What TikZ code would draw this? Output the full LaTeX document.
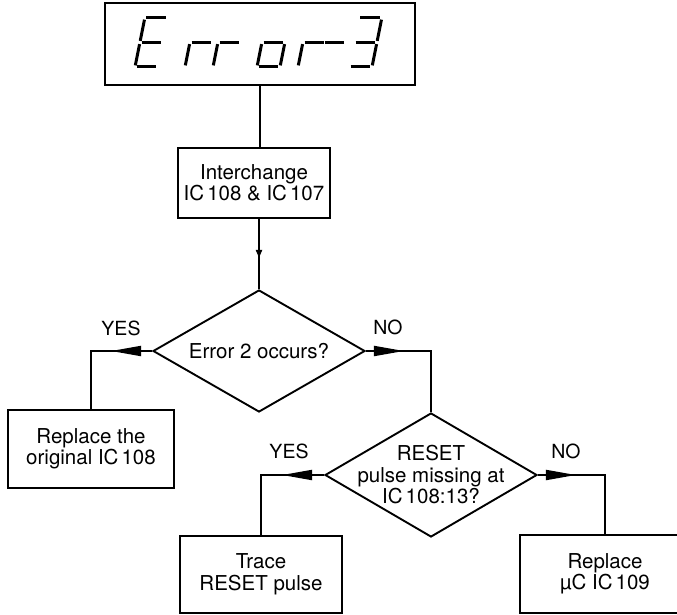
\documentclass[tikz,border=0pt]{standalone}
\usepackage{fontspec}
\setmainfont{TeX Gyre Heros}
\usetikzlibrary{shapes.geometric,arrows.meta,decorations.markings}
\newcommand{\SgA}{\draw[seg] (1.6,49)--(21.4,49);}
\newcommand{\SgB}{\draw[seg] (23,47.4)--(23,26.1);}
\newcommand{\SgC}{\draw[seg] (23,22.9)--(23,1.6);}
\newcommand{\SgD}{\draw[seg] (1.6,0)--(21.4,0);}
\newcommand{\SgE}{\draw[seg] (0,1.6)--(0,22.9);}
\newcommand{\SgF}{\draw[seg] (0,26.1)--(0,47.4);}
\newcommand{\SgG}{\draw[seg] (1.6,24.5)--(21.4,24.5);}
\newcommand{\glyph}[2]{\begin{scope}[shift={(#1,67)},xslant=0.2,yscale=-1]#2\end{scope}}
\begin{document}
\begin{tikzpicture}[x=1pt,y=-1pt,line width=1.9pt,
  txt/.style={font=\fontsize{20.5}{21.5}\selectfont},
  box/.style={draw,rectangle,inner sep=0pt,align=center,txt},
  dia/.style={draw,diamond,aspect=1,inner sep=0pt,line join=miter},
  dtxt/.style={inner sep=0pt,align=center,txt},
  lab/.style={inner sep=0pt,font=\fontsize{19.5}{21}\selectfont},
  seg/.style={line width=3pt,line cap=butt},
  arr/.style={postaction=decorate,decoration={markings,
     mark=at position #1 with {\arrow{Triangle[length=30pt,width=10pt]}}}},
  smallarr/.style={postaction=decorate,decoration={markings,
     mark=at position #1 with {\arrow{Triangle[length=8pt,width=6pt]}}}}]
\useasboundingbox (0,0) rectangle (677,615);
\clip (0,0) rectangle (677,615);
% display
\node[box,minimum width=310pt,minimum height=82pt] (disp) at (260,44) {};
\glyph{135}{\SgA\SgD\SgE\SgF\SgG}
\glyph{185}{\SgE\SgG}
\glyph{213}{\SgE\SgG}
\glyph{257}{\SgC\SgD\SgE\SgG}
\glyph{298}{\SgE\SgG}
\glyph{318}{\SgG}
\glyph{349}{\SgA\SgB\SgC\SgD\SgG}
% nodes
\node[box,minimum width=152pt,minimum height=70pt] (b2) at (254,183) {Interchange\\IC\hspace{0.15em}108 \& IC\hspace{0.15em}107};
\node[dia,minimum width=212pt,minimum height=122pt] (d1) at (259,351) {};
\node[dtxt] (t1) at (d1.center) {Error 2 occurs?};
\node[box,minimum width=166pt,minimum height=78pt] (b3) at (91,449) {Replace the\\original IC\hspace{0.15em}108};
\node[dia,minimum width=212pt,minimum height=124pt] (d2) at (431,475) {};
\node[dtxt] (t2) at (d2.center) {RESET\\pulse missing at\\IC\hspace{0.15em}108:13?};
\node[box,minimum width=162pt,minimum height=77pt] (b4) at (261,574.5) {Trace\\RESET pulse};
\node[box,minimum width=170pt,minimum height=78pt] (b5) at (605,574) {Replace\\µC IC\hspace{0.15em}109};
% labels
\node[lab] (ly1) at (121,328) {YES};
\node[lab] (ln1) at (388,327) {NO};
\node[lab] (ly2) at (289,451) {YES};
\node[lab] (ln2) at (566,451) {NO};
% connectors
\draw (disp.south) -- (disp.south |- b2.north);
\draw[smallarr=39pt] (d1.north |- b2.south) -- (d1.north);
\draw[arr=41pt] (d1.west) -| (b3.north);
\draw[arr=38pt] (d1.east) -| (d2.north);
\draw[arr=42pt] (d2.west) -| (b4.north);
\draw[arr=38pt] (d2.east) -| (b5.north);
\end{tikzpicture}
\end{document}
